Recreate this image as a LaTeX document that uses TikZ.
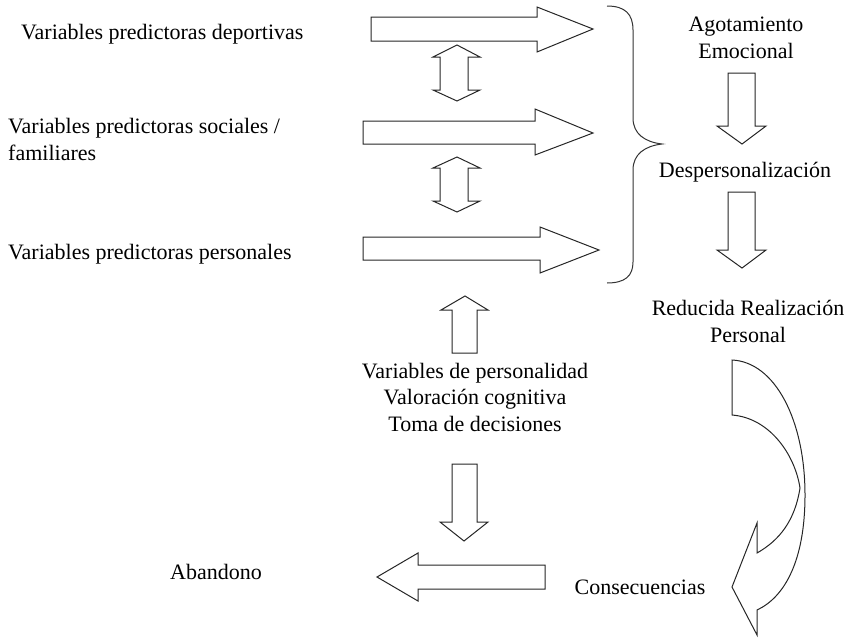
\documentclass[tikz,border=0pt]{standalone}
\usepackage{fontspec}
\setmainfont{Liberation Serif}
\begin{document}
\begin{tikzpicture}[x=1pt,y=-1pt,
  blockarrow/.style={draw=black!85,line width=1pt,fill=white,line join=miter},
  lbl/.style={inner sep=0pt,font=\fontsize{22}{26.5}\selectfont},
  brace/.style={draw=black!80,line width=1pt}]
\useasboundingbox (0,0) rectangle (845,640);

% left labels
\node[lbl,anchor=base west] (deport) at (21,39) {Variables predictoras deportivas};
\node[lbl,anchor=base west,align=left] (social) at (8,160) {Variables predictoras sociales /\\familiares};
\node[lbl,anchor=base west] (person) at (8,259) {Variables predictoras personales};

% right column labels
\node[lbl,anchor=base,align=center] (agot) at (746,58) {Agotamiento\\Emocional};
\node[lbl,anchor=base] (desp) at (745,177) {Despersonalización};
\node[lbl,anchor=base,align=center] (reduc) at (748,342) {Reducida Realización\\Personal};

% middle labels
\node[lbl,anchor=base,align=center] (pers) at (475,431) {Variables de personalidad\\Valoración cognitiva\\Toma de decisiones};
\node[lbl,anchor=base] (aband) at (216,579) {Abandono};
\node[lbl,anchor=base] (conse) at (640,594) {Consecuencias};

% horizontal block arrows
\path[blockarrow] (371,17) -- (537,17) -- (537,7) -- (593,29) -- (537,52) -- (537,41) -- (371,41) -- cycle;
\path[blockarrow] (363,121) -- (535,121) -- (535,109) -- (593,133) -- (535,155) -- (535,144) -- (363,144) -- cycle;
\path[blockarrow] (363,237) -- (540,237) -- (540,227) -- (599,250) -- (540,273) -- (540,260) -- (363,260) -- cycle;

% double vertical arrows
\path[blockarrow] (457,45) -- (480,57) -- (468,57) -- (468,90) -- (480,90) -- (457,101) -- (433,90) -- (440,90) -- (440,57) -- (433,57) -- cycle;
\path[blockarrow] (457,157) -- (480,168) -- (468,168) -- (468,201) -- (480,201) -- (457,212) -- (433,201) -- (440,201) -- (440,168) -- (433,168) -- cycle;

% brace
\path[brace] (607,6) .. controls (625,6) and (633,14) .. (633,30) -- (633,118)
  .. controls (633,134) and (645,142) .. (662,144)
  .. controls (645,146) and (633,154) .. (633,170) -- (633,262)
  .. controls (633,276) and (625,283) .. (607,283);

% up arrow
\path[blockarrow] (465,296) -- (488,310) -- (477,310) -- (477,353) -- (452,353) -- (452,310) -- (441,310) -- cycle;

% down arrow (middle)
\path[blockarrow] (452,464) -- (477,464) -- (477,522) -- (488,522) -- (464,541) -- (440,522) -- (452,522) -- cycle;

% left arrow
\path[blockarrow] (545,565) -- (418,565) -- (418,553) -- (377,577) -- (418,601) -- (418,589) -- (545,589) -- cycle;

% right column down arrows
\path[blockarrow] (728,73) -- (755,73) -- (755,126) -- (766,126) -- (742,144) -- (717,126) -- (728,126) -- cycle;
\path[blockarrow] (728,192) -- (755,192) -- (755,250) -- (766,250) -- (742,268) -- (717,250) -- (728,250) -- cycle;

% curved arrow
\path[blockarrow] (732,360) .. controls (775,362) and (805,420) .. (805,495)
  .. controls (805,560) and (785,597) .. (757,610)
  -- (757,635) -- (732,587) -- (757,523) -- (757,553)
  .. controls (780,540) and (795,520) .. (800,488)
  .. controls (795,455) and (770,418) .. (732,415) -- cycle;
\end{tikzpicture}
\end{document}
